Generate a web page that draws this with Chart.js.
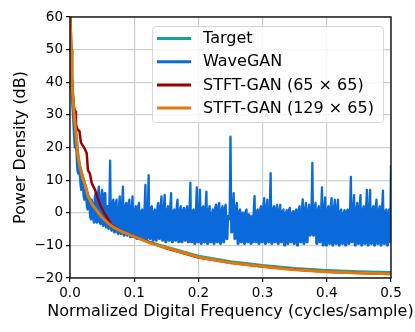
<!DOCTYPE html>
<html>
<head>
<meta charset="utf-8">
<script src="https://cdn.jsdelivr.net/npm/chart.js@4.4.0/dist/chart.umd.min.js"></script>
<style>
  html, body { margin: 0; padding: 0; background: #fff; }
  #wrap { width: 415px; height: 332px; }
</style>
</head>
<body>
<div id="wrap"><canvas id="psd" width="415" height="332"></canvas></div>
<script>
// tick values
const xTicks = [0.0, 0.1, 0.2, 0.3, 0.4, 0.5];
const yTicks = [-20, -10, 0, 10, 20, 30, 40, 50, 60];

// Target and STFT-GAN (129x65) curves
const targetFreq = [0, 0.0016, 0.003, 0.006, 0.0104, 0.0125, 0.015, 0.0198, 0.025, 0.028, 0.035, 0.0415, 0.049, 0.06, 0.0675, 0.08, 0.1, 0.125, 0.153, 0.2, 0.25, 0.3, 0.35, 0.4, 0.45, 0.5];
const targetDb = [62, 50, 40, 31.5, 21.8, 17.5, 14.5, 11, 7.6, 5.3, 2.6, 0.9, -1.1, -3.1, -4.2, -5.5, -7.1, -9.1, -10.7, -13.3, -15, -16.2, -17.1, -17.7, -18.1, -18.3];
const stft129Db = [62, 50, 40, 31.5, 21.6, 17.3, 14.3, 10.8, 7.4, 5.1, 2.4, 0.7, -1.3, -3.3, -4.4, -5.7, -7.3, -9.3, -10.9, -13.6, -15.3, -16.5, -17.5, -18.1, -18.5, -18.7];

// STFT-GAN (65x65): stepped at low frequency
const stft65Freq = [0, 0.0008, 0.0023, 0.0039, 0.0055, 0.0078, 0.0093, 0.0117, 0.0148, 0.017, 0.0218, 0.026, 0.028, 0.031, 0.034, 0.039, 0.044, 0.048, 0.053, 0.058, 0.065, 0.08, 0.1, 0.15, 0.2, 0.25, 0.3, 0.35, 0.4, 0.45, 0.5];
const stft65Db = [62, 60, 45, 37.6, 33, 31, 27, 25.5, 25, 21.5, 20, 18.3, 13, 12, 9, 7, 4, 2, 0, -1.5, -3.8, -5.7, -7.3, -10.9, -13.7, -15.3, -16.5, -17.4, -18.1, -18.5, -18.8];

// WaveGAN: one value every 0.00125 cycles/sample, 0 .. 0.5 (20 per row = 0.025)
const waveganStep = 0.00125;
const waveganDb = [
  58, 46, 38, 33, 29, 24, 20, 21, 19, 14, 12, 14, 13, 9, 7, 10, 9, 5, 4, 7,
  6, 2, 1, 5, 4, -1, -2, 4, 3, -2, -3, 5, 6, -3, -3, 6, 8, -3, -3.5, 5,
  7, -4, -4, 6, 6, -4.5, -4.5, 2, -5, 1, 16, -5, -5.5, 3, 4, -6, -6, 3, 4, -6,
  -6.5, 2, 5, -6.5, -6.5, 3, 8, -7, -7, 2, 3, -7, -7, 3, 4, -7.5, -7.5, 2, 5, -7.5,
  -7.5, 1, 2, -8, -8, 2, 3, -8, -7.5, 0.5, 1, -8, -8, 2, 8.5, -8, -8, 1, 11.5, -8,
  -8, 1.5, 2, -8.5, -8.5, 0.5, 1, -8.5, -8.5, 2, 3, -8, -8, 2, 5, -8.5, -8.5, 2, 5.5, -9,
  -9, 1, 2, -8.5, -8.5, 2, 6, -9, -9, 0.5, 1, -8.5, -8.5, 2, 4, -9, -9, 1, 2, -9,
  -9, 1, 1.5, -8.5, -8.5, 1, 2, -9, -9, 1, 9.2, -9, -9, 0.5, 1, -9.5, -9.5, 1, 7.8, -9,
  -9, 1, 7, -9.5, -9.5, 1.5, 2, -9, -9, 2, 6.5, -9.5, -9.5, 1, 2, -9, -9, 0, 1, -9.5,
  -9.5, 1.5, 2.5, -9, -9, 2, 3, -9.5, -9.5, 1, 2, -9, -9, 1.5, 2.5, -8, -8, -1, -2, 0,
  23.3, -6, -6, 2, 6, -8, -8, 2, 3, -9.5, -9.5, 0.5, 1, -9, -9, 0, 0, -9.5, -9.5, 0.5,
  1, -9, -9, -0.5, -1, -9.5, -9.5, -1, -9, 1, 5.1, -9, -9, 0.5, 1, -9.5, -9.5, 1, 2, -9,
  -9, 2, 4.5, -9.5, -9.5, 2, 4, -9, -9, 1, 12.1, -9.5, -9.5, 1, 2, -9, -9, 1.5, 2.4, -9.5,
  -9.5, 1, 2.4, -9, -9, 0.5, 1, -10, -10, 0, 0.8, -9.5, -9.5, 1, 1.5, -9, -9, 0, 0.5, -9.5,
  -9.5, 0.5, 1, -10, -10, 1, 2, -9, -9, 1, 4.1, -9.5, -9.5, 1.5, 3, -9, -9, 1, 2.5, -7,
  -6.8, 1, 15.3, -7, -7, 1.5, 3, -9.5, -9.5, 1, 2, -9, -9, 1, 7.8, -10, -10, 2, 4.7, -10,
  -10, 1, 2, -9.5, -9.5, 2, 4.5, -10, -10, 1.5, 4, -9.5, -9.5, 2, 4, -10, -10, 0.5, 1, -9.5,
  -9.5, 0, 0.8, -10, -10, 0.5, 1, -9.5, -9.5, 1, 11, -9, -9, 2, 5.4, -10, -10, 1.5, 3, -9.5,
  -9.5, 2, 5.4, -10, -10, 1, 2, -9.5, -9.5, 2, 7, -10, -10, 2, 7, -9.5, -9.5, 1, 2, -10,
  -10, 2, 4, -9.5, -9.5, 1, 2, -10, -10, 2, 6.8, -9.5, -9.5, 0.5, 1, -10, -10, 0.5, 1, -9,
  14.6
];

const seriesNames = ["Target", "WaveGAN", "STFT-GAN (65 \u00d7 65)", "STFT-GAN (129 \u00d7 65)"];
const seriesColors = ["#15a19a", "#0a6ad9", "#9b0000", "#e2790d"];
const xTitle = "Normalized Digital Frequency (cycles/sample)";

const pairs = (xs, ys) => xs.map((x, i) => ({ x: x, y: ys[i] }));
const waveganPts = waveganDb.map((y, i) => ({ x: i * waveganStep, y: y }));

const FONT = "'DejaVu Sans', sans-serif";

// matplotlib-style legend inside the axes, top right
const innerLegend = {
  id: "innerLegend",
  afterDraw(chart) {
    const ctx = chart.ctx;
    const area = chart.chartArea;
    const bx = 152, by = 26, bw = area.right - 8 - 152, bh = 96;
    ctx.save();
    ctx.fillStyle = "rgba(255,255,255,0.8)";
    ctx.strokeStyle = "#d6d6d6";
    ctx.lineWidth = 1;
    ctx.beginPath();
    ctx.roundRect(bx + 0.5, by + 0.5, bw, bh, 3);
    ctx.fill();
    ctx.stroke();
    ctx.font = "16px " + FONT;
    ctx.textBaseline = "middle";
    ctx.fillStyle = "#000";
    chart.data.datasets.forEach((ds, i) => {
      const yy = 38.5 + i * 23.2;
      ctx.strokeStyle = ds.borderColor;
      ctx.lineWidth = 3;
      ctx.beginPath();
      ctx.moveTo(157, yy);
      ctx.lineTo(191, yy);
      ctx.stroke();
      ctx.fillText(ds.label, 203, yy + 0.5);
    });
    ctx.restore();
  }
};

// frame round the plot + x title (the built-in title gets squeezed to the axis width)
const frame = {
  id: "frame",
  afterDraw(chart) {
    const a = chart.chartArea;
    const ctx = chart.ctx;
    ctx.save();
    ctx.strokeStyle = "#000";
    ctx.lineWidth = 1.3;
    ctx.strokeRect(a.left, a.top, a.right - a.left, a.bottom - a.top);
    ctx.fillStyle = "#000";
    ctx.font = "16px " + FONT;
    ctx.textAlign = "center";
    ctx.textBaseline = "middle";
    ctx.fillText(xTitle, (a.left + a.right) / 2, 312);
    ctx.restore();
  }
};

new Chart(document.getElementById("psd"), {
  type: "scatter",
  data: {
    datasets: [
      { label: seriesNames[0], data: pairs(targetFreq, targetDb), borderColor: seriesColors[0], borderWidth: 3, order: 3 },
      // tiny tension keeps every vertex (Chart.js otherwise merges points per pixel column)
      { label: seriesNames[1], data: waveganPts, borderColor: seriesColors[1], borderWidth: 2.3, tension: 0.0001, order: 2 },
      { label: seriesNames[2], data: pairs(stft65Freq, stft65Db), borderColor: seriesColors[2], borderWidth: 2.5, order: 1 },
      { label: seriesNames[3], data: pairs(targetFreq, stft129Db), borderColor: seriesColors[3], borderWidth: 3, order: 0 },
    ].map(d => Object.assign({ tension: 0 }, d, {
      showLine: true, pointRadius: 0, fill: false,
      borderJoinStyle: "round", borderCapStyle: "butt",
      backgroundColor: d.borderColor,
    })),
  },
  options: {
    responsive: false,
    animation: false,
    layout: { padding: { top: 17, right: 24, left: 11, bottom: 9 } },
    plugins: {
      legend: { display: false },
      tooltip: { enabled: false },
    },
    scales: {
      x: {
        type: "linear",
        min: 0,
        max: 0.5,
        afterBuildTicks: (s) => { s.ticks = xTicks.map(v => ({ value: v })); },
        afterFit: (s) => { s.height = 45; },
        grid: { color: "#cfcfcf", lineWidth: 1.2, tickLength: 4, tickColor: "#000", drawTicks: true },
        border: { display: false },
        ticks: {
          color: "#000",
          font: { family: FONT, size: 13.5 },
          padding: 3,
          maxRotation: 0,
          callback: (v) => v.toFixed(1),
        },
      },
      y: {
        type: "linear",
        min: -20,
        max: 60,
        afterBuildTicks: (s) => { s.ticks = yTicks.map(v => ({ value: v })); },
        afterFit: (s) => { s.width = 59; },
        grid: { color: "#cfcfcf", lineWidth: 1.2, tickLength: 4, tickColor: "#000" },
        border: { display: false },
        ticks: {
          color: "#000",
          font: { family: FONT, size: 13.5 },
          padding: 3,
          callback: (v) => (v < 0 ? "\u2212" + Math.abs(v) : String(v)),
        },
        title: {
          display: true,
          text: "Power Density (dB)",
          color: "#000",
          font: { family: FONT, size: 16 },
          padding: { top: 0, bottom: 0 },
        },
      },
    },
  },
  plugins: [frame, innerLegend],
});
</script>
</body>
</html>
